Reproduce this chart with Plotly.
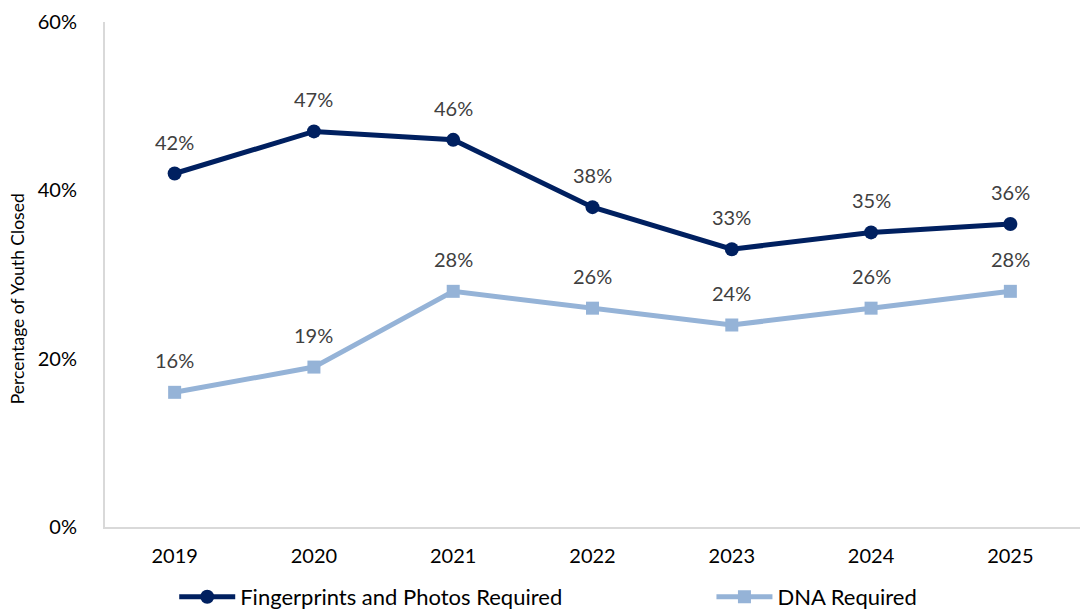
import plotly.graph_objects as go

years = ["2019", "2020", "2021", "2022", "2023", "2024", "2025"]
fingerprints_photos = [42, 47, 46, 38, 33, 35, 36]
dna_required = [16, 19, 28, 26, 24, 26, 28]
y_ticks = [0, 20, 40, 60]
y_tick_labels = ["0%", "20%", "40%", "60%"]

NAVY = "#002060"
LIGHT_BLUE = "#95B3D7"
FONT = "Lato, 'Open Sans', sans-serif"

fig = go.Figure()
fig.add_trace(go.Scatter(
    x=years, y=fingerprints_photos, mode="lines+markers",
    name="Fingerprints and Photos Required",
    line=dict(color=NAVY, width=5),
    marker=dict(symbol="circle", size=14, color=NAVY),
    legend="legend",
))
fig.add_trace(go.Scatter(
    x=years, y=dna_required, mode="lines+markers",
    name="DNA Required",
    line=dict(color=LIGHT_BLUE, width=5),
    marker=dict(symbol="square", size=13, color=LIGHT_BLUE),
    legend="legend2",
))

# value labels above each point (x given as category index)
annotations = []
for series in (fingerprints_photos, dna_required):
    for i, v in enumerate(series):
        annotations.append(dict(
            x=i, y=v, xref="x", yref="y", text=f"{v}%",
            showarrow=False, yshift=32,
            font=dict(family=FONT, size=20, color="#404040"),
        ))

# y-axis title
annotations.append(dict(
    x=-0.0903, y=0.453, xref="paper", yref="paper",
    text="Percentage of Youth Closed", textangle=-90, showarrow=False,
    xanchor="center", yanchor="middle",
    font=dict(family=FONT, size=17.5, color="#000000"),
))

legend_style = dict(
    orientation="h", y=-0.1386, yanchor="middle", xanchor="left",
    font=dict(family=FONT, size=22, color="#000000"),
    itemwidth=56, bgcolor="rgba(0,0,0,0)",
)

fig.update_layout(
    width=1080, height=610,
    margin=dict(l=105, r=0, t=22, b=83, autoexpand=False),
    paper_bgcolor="white", plot_bgcolor="white",
    font=dict(family=FONT, size=20, color="#000000"),
    annotations=annotations,
    showlegend=True,
    legend=dict(x=0.071, **legend_style),
    legend2=dict(x=0.622, **legend_style),
)
fig.update_xaxes(
    type="category", range=[-0.5, 6.5],
    showline=True, linecolor="#d9d9d9", linewidth=2,
    showgrid=False, ticks="", ticklabelstandoff=10,
    tickfont=dict(family=FONT, size=20, color="#000000"),
)
fig.update_yaxes(
    range=[0, 60], tickvals=y_ticks, ticktext=y_tick_labels,
    showline=True, linecolor="#d9d9d9", linewidth=2,
    showgrid=False, zeroline=False, ticks="", ticklabelstandoff=22,
    tickfont=dict(family=FONT, size=20, color="#000000"),
)

fig.write_html("out.html")
